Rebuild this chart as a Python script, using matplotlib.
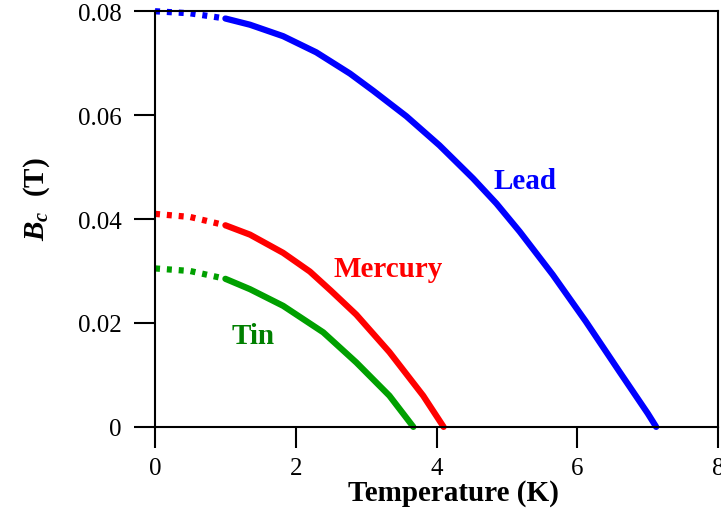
import matplotlib
matplotlib.use("Agg")
import matplotlib.pyplot as plt

# critical field curves (T in K, Bc in tesla)
lead_T = [0, 0.5, 1.0, 1.35, 1.82, 2.29, 2.77, 3.10, 3.57, 4.04, 4.52, 4.85,
          5.18, 5.65, 6.12, 6.60, 7.0, 7.12]
lead_B = [0.0800, 0.0796, 0.0786, 0.0774, 0.0752, 0.0721, 0.0680, 0.0647, 0.0598,
          0.0542, 0.0478, 0.0430, 0.0376, 0.0293, 0.0203, 0.0106, 0.0026, 0.0]

mercury_T = [0, 0.5, 1.0, 1.35, 1.82, 2.20, 2.50, 2.86, 3.33, 3.81, 4.10]
mercury_B = [0.0410, 0.0404, 0.0388, 0.0370, 0.0335, 0.0299, 0.0262, 0.0216, 0.0144,
             0.0060, 0.0]

tin_T = [0, 0.5, 1.0, 1.35, 1.82, 2.39, 2.86, 3.33, 3.67]
tin_B = [0.0305, 0.0300, 0.0285, 0.0265, 0.0233, 0.0182, 0.0124, 0.0060, 0.0]

x_ticks = [0, 2, 4, 6, 8]
y_ticks = [0, 0.02, 0.04, 0.06, 0.08]
y_tick_labels = ["0", "0.02", "0.04", "0.06", "0.08"]

# below this temperature the curves are drawn dotted (extrapolated)
split_T = 1.0

plt.rcParams["font.family"] = "Liberation Serif"
plt.rcParams["mathtext.fontset"] = "custom"
plt.rcParams["mathtext.it"] = "Liberation Serif:bold:italic"
plt.rcParams["mathtext.rm"] = "Liberation Serif:bold"

fig = plt.figure(figsize=(7.21, 5.10), dpi=100)
ax = fig.add_axes([0.215, 0.161, 0.781, 0.815])

curves = [
    (lead_T, lead_B, "#0000ff"),
    (mercury_T, mercury_B, "#ff0000"),
    (tin_T, tin_B, "#00a000"),
]
for T, B, color in curves:
    i = T.index(split_T)
    ax.plot(T[:i + 1], B[:i + 1], color=color, lw=4.5, dashes=(0.8, 1.1),
            dash_capstyle="butt", clip_on=False)
    ax.plot(T[i:], B[i:], color=color, lw=4.5, solid_capstyle="round",
            solid_joinstyle="round", clip_on=False)

ax.text(5.26, 0.0475, "Lead", color="#0000ff", fontsize=21, fontweight="bold",
        ha="center", va="center")
ax.text(3.31, 0.0304, "Mercury", color="#ff0000", fontsize=21, fontweight="bold",
        ha="center", va="center")
ax.text(1.40, 0.0176, "Tin", color="#008000", fontsize=21, fontweight="bold",
        ha="center", va="center")

ax.set_xlim(0, 8)
ax.set_ylim(0, 0.08)
ax.set_xticks(x_ticks)
ax.set_yticks(y_ticks)
ax.set_yticklabels(y_tick_labels)
ax.tick_params(direction="out", length=15, width=1.5, labelsize=18, pad=7)
ax.tick_params(axis="y", pad=9)
for s in ax.spines.values():
    s.set_linewidth(1.5)

ax.set_xlabel("Temperature (K)", fontsize=21, fontweight="bold", labelpad=0)
ax.xaxis.set_label_coords(0.53, -0.125)
ax.set_ylabel(r"$B_c$  (T)", fontsize=21, fontweight="bold")
ax.yaxis.set_label_coords(-0.183, 0.55)

fig.savefig("out.png", dpi=100)
